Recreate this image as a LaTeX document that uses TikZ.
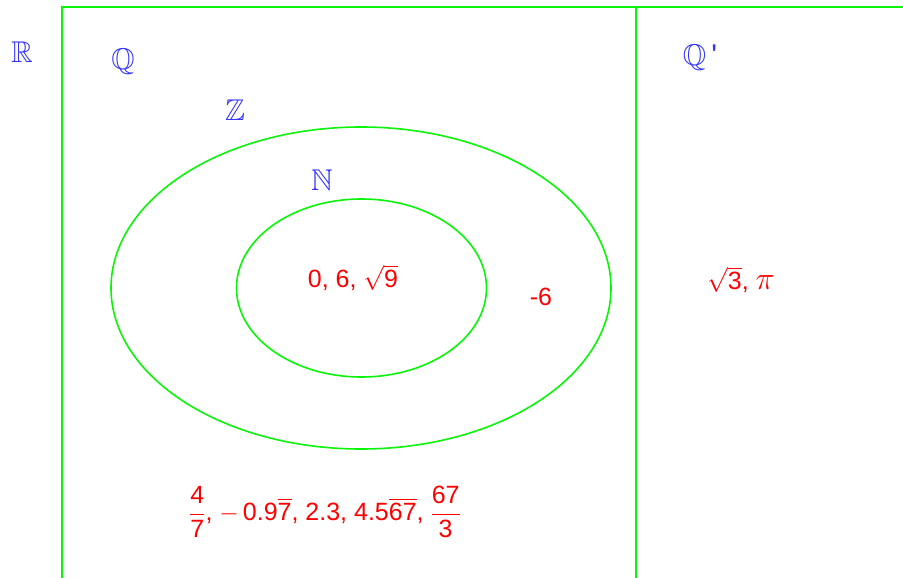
\documentclass[tikz,border=0pt]{standalone}
\usepackage{amssymb}
\usepackage{amsmath}
\usepackage{graphicx}
\usepackage[no-math]{fontspec}
\setmainfont{Liberation Sans}
\definecolor{vgreen}{RGB}{10,245,10}
\definecolor{setblue}{RGB}{50,50,250}
\definecolor{elemred}{RGB}{255,0,0}
\begin{document}
\begin{tikzpicture}[x=1pt,y=-1pt,
  boundary/.style={draw=vgreen,line width=1.6pt},
  setlabel/.style={text=setblue,font=\fontsize{30}{34}\selectfont,inner sep=0pt},
  elems/.style={text=elemred,font=\fontsize{25}{29}\selectfont,inner sep=0pt}]
\useasboundingbox (0,0) rectangle (903,578);
\begin{scope}
\clip (0,0) rectangle (903,578);
\draw[boundary] (62,7) rectangle (920,600);
\draw[boundary] (636,7) -- (636,600);
\end{scope}
\draw[boundary] (361,288) ellipse [x radius=250, y radius=161];
\draw[boundary] (361.5,288) ellipse [x radius=125, y radius=89];
\node[setlabel] (R) at (22,52) {$\mathbb{R}$};
\node[setlabel] (Q) at (123,62) {$\mathbb{Q}$};
\node[setlabel] (Z) at (235,110) {$\mathbb{Z}$};
\node[setlabel] (N) at (322,180) {$\mathbb{N}$};
\node[setlabel] (Qp) at (700,58) {$\mathbb{Q}$\,\textquotesingle};
\node[elems] (nat) at (353,278) {0, 6, $\sqrt{\text{9}}$};
\node[elems] (neg) at (541,297) {-6};
\node[elems] (irr) at (741,280) {$\sqrt{\text{3}}$, \scalebox{1.3}{$\pi$}};
\node[elems] (rat) at (325,512) {$\dfrac{\text{4}}{\text{7}}$, $-$\,0.9$\overline{\text{7}}$, 2.3, 4.5$\overline{\text{67}}$, $\dfrac{\text{67}}{\text{3}}$};
\end{tikzpicture}
\end{document}
